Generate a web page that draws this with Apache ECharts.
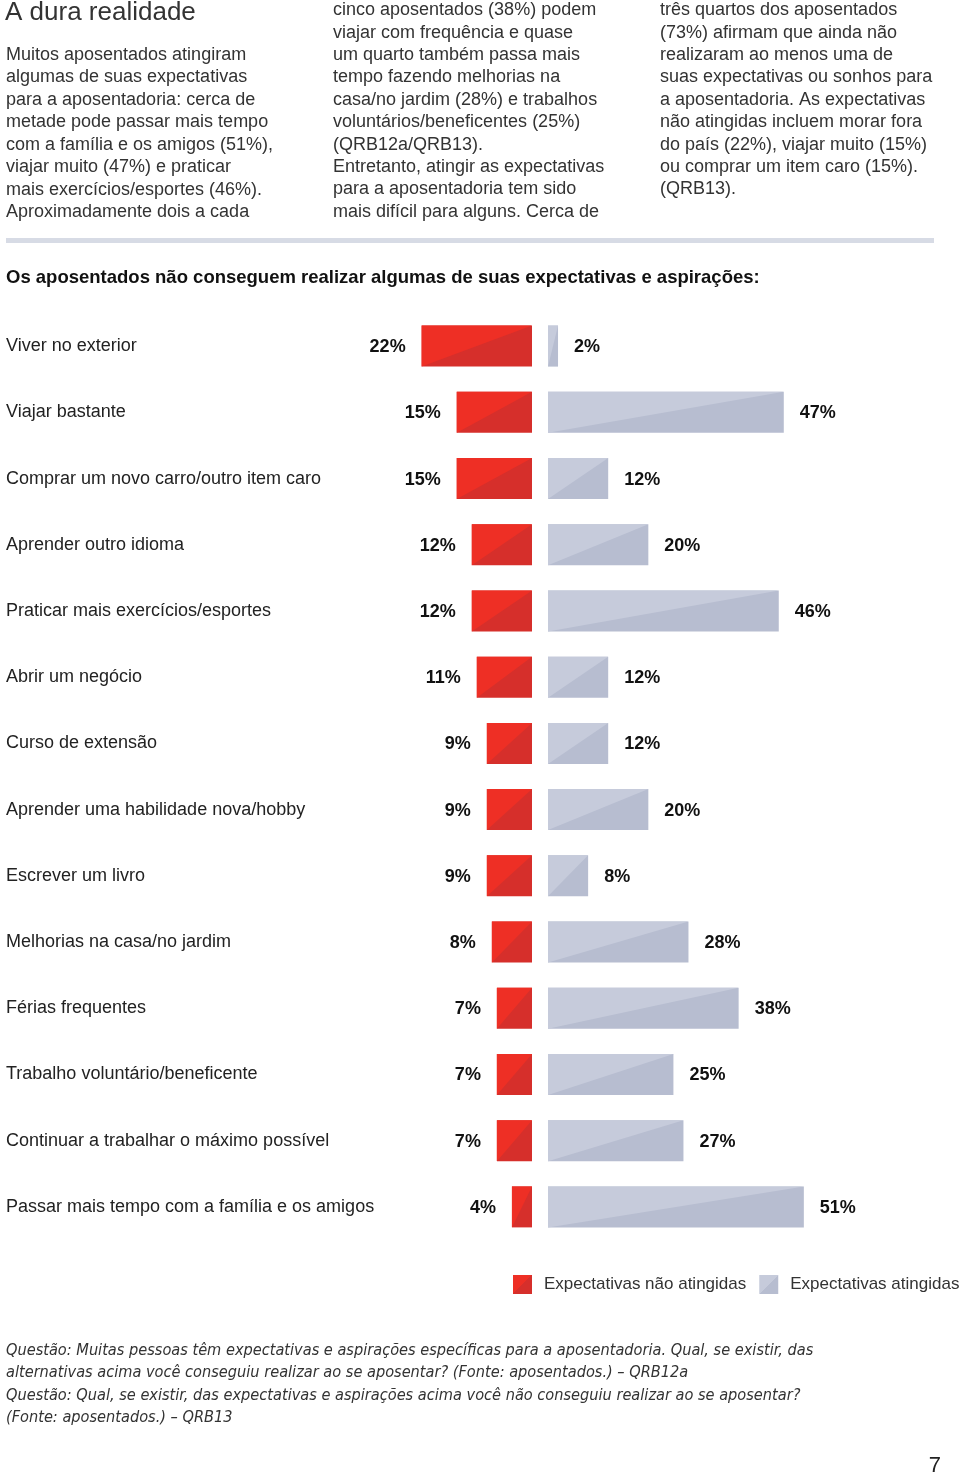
<!DOCTYPE html>
<html>
<head>
<meta charset="utf-8">
<script src="https://cdn.jsdelivr.net/npm/echarts@6/dist/echarts.min.js"></script>
<style>
html,body{margin:0;padding:0;background:#fff;}
#chart{width:960px;height:1474px;}
</style>
</head>
<body>
<div id="chart"></div>
<script>
const categories = [
  'Viver no exterior',
  'Viajar bastante',
  'Comprar um novo carro/outro item caro',
  'Aprender outro idioma',
  'Praticar mais exercícios/esportes',
  'Abrir um negócio',
  'Curso de extensão',
  'Aprender uma habilidade nova/hobby',
  'Escrever um livro',
  'Melhorias na casa/no jardim',
  'Férias frequentes',
  'Trabalho voluntário/beneficente',
  'Continuar a trabalhar o máximo possível',
  'Passar mais tempo com a família e os amigos'
];
const notAchieved = [22, 15, 15, 12, 12, 11, 9, 9, 9, 8, 7, 7, 7, 4];
const achieved = [2, 47, 12, 20, 46, 12, 12, 20, 8, 28, 38, 25, 27, 51];
const seriesNames = ['Expectativas não atingidas', 'Expectativas atingidas'];

const col1 = 'Muitos aposentados atingiram\nalgumas de suas expectativas\npara a aposentadoria: cerca de\nmetade pode passar mais tempo\ncom a família e os amigos (51%),\nviajar muito (47%) e praticar\nmais exercícios/esportes (46%).\nAproximadamente dois a cada';
const col2 = 'cinco aposentados (38%) podem\nviajar com frequência e quase\num quarto também passa mais\ntempo fazendo melhorias na\ncasa/no jardim (28%) e trabalhos\nvoluntários/beneficentes (25%)\n(QRB12a/QRB13).\nEntretanto, atingir as expectativas\npara a aposentadoria tem sido\nmais difícil para alguns. Cerca de';
const col3 = 'três quartos dos aposentados\n(73%) afirmam que ainda não\nrealizaram ao menos uma de\nsuas expectativas ou sonhos para\na aposentadoria. As expectativas\nnão atingidas incluem morar fora\ndo país (22%), viajar muito (15%)\nou comprar um item caro (15%).\n(QRB13).';
const footnote = 'Questão: Muitas pessoas têm expectativas e aspirações específicas para a aposentadoria. Qual, se existir, das\nalternativas acima você conseguiu realizar ao se aposentar? (Fonte: aposentados.) – QRB12a\nQuestão: Qual, se existir, das expectativas e aspirações acima você não conseguiu realizar ao se aposentar?\n(Fonte: aposentados.) – QRB13';

const FONT = '"Liberation Sans", Arial, sans-serif';
const NARROW = '"Liberation Sans Narrow", "DejaVu Sans Condensed", "Liberation Sans", sans-serif';
const RED_L = '#ee2f25', RED_D = '#d62f2b';
const GRAY_L = '#c6cbdb', GRAY_D = '#b7bdd0';
const BAR_H = 41;

function diagGrad(l, d) {
  return new echarts.graphic.LinearGradient(0, 0, 1, 1, [
    {offset: 0, color: l}, {offset: 0.5, color: l},
    {offset: 0.5, color: d}, {offset: 1, color: d}
  ]);
}

function makeRender(light, dark, side) {
  return function (params, api) {
    const v = api.value(0), idx = api.value(1);
    const p0 = api.coord([0, idx]);
    const p1 = api.coord([v, idx]);
    const xl = Math.min(p0[0], p1[0]), xr = Math.max(p0[0], p1[0]);
    const yt = p0[1] - BAR_H / 2, yb = yt + BAR_H;
    const label = side === 'left'
      ? {x: xl - 16, align: 'right'}
      : {x: xr + 16, align: 'left'};
    return {
      type: 'group',
      children: [
        {type: 'rect', shape: {x: xl, y: yt, width: xr - xl, height: BAR_H}, style: {fill: dark}},
        {type: 'polygon', shape: {points: [[xl, yt], [xr, yt], [xl, yb]]}, style: {fill: light}},
        {type: 'text', style: {
          text: v + '%', x: label.x, y: p0[1] + 1, align: label.align, verticalAlign: 'middle',
          font: 'bold 18px ' + FONT, fill: '#111'
        }}
      ]
    };
  };
}

const chart = echarts.init(document.getElementById('chart'), null, {renderer: 'canvas'});

const option = {
  backgroundColor: '#fff',
  animation: false,
  grid: [
    {left: 231, right: 428, top: 313, height: 927},
    {left: 548, right: 111, top: 313, height: 927}
  ],
  xAxis: [
    {gridIndex: 0, type: 'value', min: 0, max: 60, inverse: true, show: false},
    {gridIndex: 1, type: 'value', min: 0, max: 60, show: false}
  ],
  yAxis: [
    {gridIndex: 0, type: 'category', data: categories, inverse: true,
      axisLine: {show: false}, axisTick: {show: false}, splitLine: {show: false},
      axisLabel: {margin: 225, align: 'left', fontSize: 18, fontFamily: FONT, color: '#222'}},
    {gridIndex: 1, type: 'category', data: categories, inverse: true, show: false}
  ],
  legend: {
    left: 513, top: 1275, width: 470, padding: 0, orient: 'horizontal',
    itemWidth: 19, itemHeight: 19, itemGap: 13,
    icon: 'rect',
    textStyle: {fontSize: 17, fontFamily: FONT, color: '#333', padding: [0, 0, 0, 7]},
    data: [
      {name: seriesNames[0], itemStyle: {color: diagGrad(RED_L, RED_D)}},
      {name: seriesNames[1], itemStyle: {color: diagGrad(GRAY_L, GRAY_D)}}
    ]
  },
  series: [
    {
      name: seriesNames[0], type: 'custom', xAxisIndex: 0, yAxisIndex: 0,
      itemStyle: {color: diagGrad(RED_L, RED_D)},
      encode: {x: 0, y: 1},
      data: notAchieved.map((v, i) => [v, i]),
      renderItem: makeRender(RED_L, RED_D, 'left')
    },
    {
      name: seriesNames[1], type: 'custom', xAxisIndex: 1, yAxisIndex: 1,
      itemStyle: {color: diagGrad(GRAY_L, GRAY_D)},
      encode: {x: 0, y: 1},
      data: achieved.map((v, i) => [v, i]),
      renderItem: makeRender(GRAY_L, GRAY_D, 'right')
    }
  ],
  graphic: [
    {type: 'text', x: 5, y: 0, style: {text: 'A dura realidade', font: '26px ' + FONT, fill: '#333', verticalAlign: 'top'}},
    {type: 'text', x: 6, y: 43.5, style: {text: col1, font: '18px ' + FONT, lineHeight: 22.5, fill: '#333', verticalAlign: 'top'}},
    {type: 'text', x: 333, y: -1, style: {text: col2, font: '18px ' + FONT, lineHeight: 22.4, fill: '#333', verticalAlign: 'top'}},
    {type: 'text', x: 660, y: -1, style: {text: col3, font: '18px ' + FONT, lineHeight: 22.4, fill: '#333', verticalAlign: 'top'}},
    {type: 'rect', shape: {x: 6, y: 238, width: 928, height: 5}, style: {fill: '#d7dbe5'}},
    {type: 'text', x: 6, y: 268, style: {text: 'Os aposentados não conseguem realizar algumas de suas expectativas e aspirações:', font: 'bold 18.5px ' + FONT, fill: '#111', verticalAlign: 'top'}},
    {type: 'text', x: 6, y: 1339, style: {text: footnote, font: 'italic 16.2px ' + NARROW, lineHeight: 22.6, fill: '#333', verticalAlign: 'top'}},
    {type: 'text', x: 941, y: 1455, style: {text: '7', font: '22px ' + FONT, fill: '#222', align: 'right', verticalAlign: 'top'}}
  ]
};
chart.setOption(option);
</script>
</body>
</html>
